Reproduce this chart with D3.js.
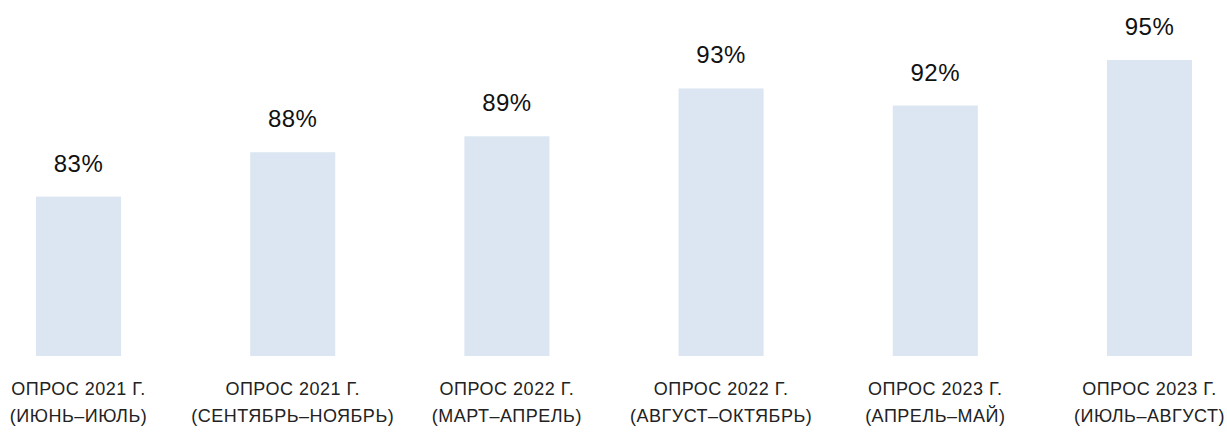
<!DOCTYPE html>
<html>
<head>
<meta charset="utf-8">
<script src="https://cdn.jsdelivr.net/npm/d3@7"></script>
<style>
  body { margin: 0; background: #fff; }
  text { font-family: "Liberation Sans", Arial, Helvetica, sans-serif; }
</style>
</head>
<body>
<div id="chart"></div>
<script>
// Data
var surveys = ["ОПРОС 2021 Г.", "ОПРОС 2021 Г.", "ОПРОС 2022 Г.", "ОПРОС 2022 Г.", "ОПРОС 2023 Г.", "ОПРОС 2023 Г."];
var periods = ["(ИЮНЬ–ИЮЛЬ)", "(СЕНТЯБРЬ–НОЯБРЬ)", "(МАРТ–АПРЕЛЬ)", "(АВГУСТ–ОКТЯБРЬ)", "(АПРЕЛЬ–МАЙ)", "(ИЮЛЬ–АВГУСТ)"];
// bar heights as drawn (the picture is not strictly to scale)
var values = [84.0, 87.9, 89.3, 93.5, 92.0, 96.0];
var valueLabels = ["83%", "88%", "89%", "93%", "92%", "95%"];

var svgWidth = 1227;
var svgHeight = 434;
var baseline = 356;

var svg = d3.select("#chart")
    .append("svg")
    .attr("width", svgWidth)
    .attr("height", svgHeight);

var keys = d3.range(values.length);

var xScale = d3.scaleBand()
    .domain(keys)
    .range([36, 1192])
    .paddingInner(0.603)
    .paddingOuter(0);

var yScale = d3.scaleLinear()
    .domain([70, 96])
    .range([baseline, 60]);

// bars
svg.selectAll("rect.bar")
    .data(keys)
    .enter()
    .append("rect")
    .attr("class", "bar")
    .attr("x", i => xScale(i))
    .attr("y", i => yScale(values[i]))
    .attr("width", xScale.bandwidth())
    .attr("height", i => baseline - yScale(values[i]))
    .attr("fill", "#dce6f2");

// value labels
svg.selectAll("text.value")
    .data(keys)
    .enter()
    .append("text")
    .attr("class", "value")
    .attr("x", i => xScale(i) + xScale.bandwidth() / 2)
    .attr("y", i => yScale(values[i]) - 25)
    .attr("text-anchor", "middle")
    .attr("font-size", "24px")
    .attr("letter-spacing", "0.5px")
    .attr("fill", "#111")
    .text(i => valueLabels[i]);

// category labels, two lines
var catGroup = svg.selectAll("text.cat")
    .data(keys)
    .enter()
    .append("text")
    .attr("class", "cat")
    .attr("text-anchor", "middle")
    .attr("font-size", "18px")
    .attr("letter-spacing", "0.5px")
    .attr("fill", "#222");

catGroup.append("tspan")
    .attr("x", i => xScale(i) + xScale.bandwidth() / 2)
    .attr("y", 395)
    .text(i => surveys[i]);

catGroup.append("tspan")
    .attr("x", i => xScale(i) + xScale.bandwidth() / 2)
    .attr("y", 422)
    .text(i => periods[i]);
</script>
</body>
</html>
